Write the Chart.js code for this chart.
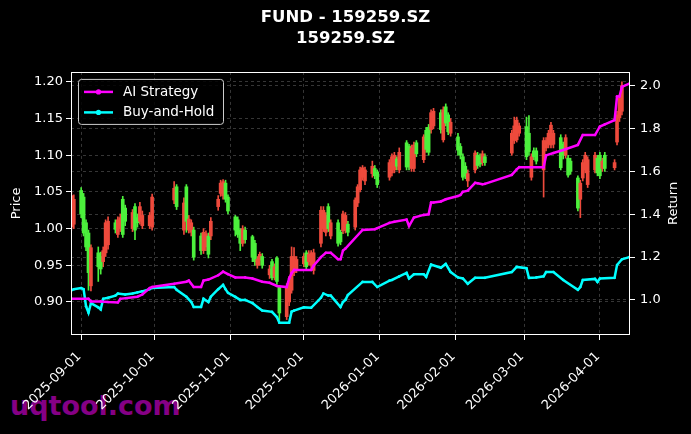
<!DOCTYPE html>
<html>
<head>
<meta charset="utf-8">
<script src="https://cdn.jsdelivr.net/npm/chart.js@4.4.1/dist/chart.umd.min.js"></script>
<style>
  html, body { margin: 0; padding: 0; background: #000; }
  #wrap { position: relative; width: 691px; height: 434px; }
  #mark { position: absolute; left: 10px; top: 390px; font: bold 27px "DejaVu Sans"; color: #850085; line-height: 31px; }
  canvas { position: absolute; left: 0; top: 0; }
</style>
</head>
<body>
<div id="wrap">
  <div id="mark">uqtool.com</div>
  <canvas id="chart" width="691" height="434"></canvas>
</div>
<script>
// daily candles (trading days)
const candleDates = [
  '2025-08-28','2025-08-29',
  '2025-09-01','2025-09-02','2025-09-03','2025-09-04','2025-09-05',
  '2025-09-08','2025-09-09','2025-09-10','2025-09-11','2025-09-12',
  '2025-09-15','2025-09-16','2025-09-17','2025-09-18','2025-09-19',
  '2025-09-22','2025-09-23','2025-09-24','2025-09-25','2025-09-26',
  '2025-09-29','2025-09-30','2025-10-09','2025-10-10',
  '2025-10-13','2025-10-14','2025-10-15','2025-10-16','2025-10-17',
  '2025-10-20','2025-10-21','2025-10-22','2025-10-23','2025-10-24',
  '2025-10-27','2025-10-28','2025-10-29','2025-10-30','2025-10-31',
  '2025-11-03','2025-11-04','2025-11-05','2025-11-06','2025-11-07',
  '2025-11-10','2025-11-11','2025-11-12','2025-11-13','2025-11-14',
  '2025-11-17','2025-11-18','2025-11-19','2025-11-20','2025-11-21',
  '2025-11-24','2025-11-25','2025-11-26','2025-11-27','2025-11-28',
  '2025-12-01','2025-12-02','2025-12-03','2025-12-04','2025-12-05',
  '2025-12-08','2025-12-09','2025-12-10','2025-12-11','2025-12-12',
  '2025-12-15','2025-12-16','2025-12-17','2025-12-18','2025-12-19',
  '2025-12-22','2025-12-23','2025-12-24','2025-12-25','2025-12-26',
  '2025-12-29','2025-12-30','2025-12-31',
  '2026-01-05','2026-01-06','2026-01-07','2026-01-08','2026-01-09',
  '2026-01-12','2026-01-13','2026-01-14','2026-01-15','2026-01-16',
  '2026-01-19','2026-01-20','2026-01-21','2026-01-22','2026-01-23',
  '2026-01-26','2026-01-27','2026-01-28','2026-01-29','2026-01-30',
  '2026-02-02','2026-02-03','2026-02-04','2026-02-05','2026-02-06',
  '2026-02-09','2026-02-10','2026-02-11','2026-02-12','2026-02-13',
  '2026-02-24','2026-02-25','2026-02-26','2026-02-27',
  '2026-03-02','2026-03-03','2026-03-04','2026-03-05','2026-03-06',
  '2026-03-09','2026-03-10','2026-03-11','2026-03-12','2026-03-13',
  '2026-03-16','2026-03-17','2026-03-18','2026-03-19','2026-03-20',
  '2026-03-23','2026-03-24','2026-03-25','2026-03-26','2026-03-27',
  '2026-03-30','2026-03-31','2026-04-01','2026-04-02','2026-04-03',
  '2026-04-07','2026-04-08','2026-04-09','2026-04-10'
];
const candleOpen = [
  1.045, 1.040,
  1.020, 0.994, 0.975, 0.940, 0.974,
  0.948, 0.945, 0.970, 1.008, 1.010,
  0.999, 1.012, 1.015, 0.992, 1.010,
  1.022, 0.998, 1.008, 1.030, 1.018,
  1.018, 1.043, 1.055, 1.030,
  1.035, 1.010, 1.013, 1.008, 0.961,
  0.970, 0.995, 0.993, 0.965, 1.010,
  1.040, 1.062, 1.064, 1.040, 1.024,
  0.998, 0.992, 0.980, 1.000, 0.985,
  0.961, 0.955, 0.958, 0.965, 0.950,
  0.945, 0.933, 0.948, 0.928, 0.885,
  0.920, 0.928, 0.962, 0.962, 0.958,
  0.962, 0.948, 0.965, 0.967, 0.967,
  1.025, 1.025, 1.018, 1.000, 1.008,
  0.980, 0.982, 1.020, 1.018, 0.995,
  1.039, 1.057, 1.080, 1.083, 1.080,
  1.085, 1.072, 1.060,
  1.090, 1.098, 1.100, 1.085, 1.104,
  1.084, 1.084, 1.110, 1.114, 1.102,
  1.125, 1.108, 1.104, 1.158, 1.160,
  1.135, 1.162, 1.144, 1.132, 1.145,
  1.107, 1.100, 1.070, 1.072, 1.075,
  1.103, 1.086, 1.088, 1.102, 1.090,
  1.130, 1.140, 1.148, 1.140,
  1.098, 1.105, 1.098, 1.098, 1.092,
  1.120, 1.120, 1.130, 1.141, 1.130,
  1.083, 1.100, 1.124, 1.073, 1.078,
  1.028, 1.062, 1.090, 1.100, 1.094,
  1.100, 1.076, 1.072, 1.092, 1.082,
  1.090, 1.155, 1.178, 1.195
];
const candleHigh = [
  1.050, 1.046,
  1.056, 1.048, 1.012, 0.998, 0.978,
  0.975, 0.968, 0.975, 1.012, 1.016,
  1.012, 1.016, 1.020, 1.044, 1.032,
  1.026, 1.034, 1.020, 1.036, 1.024,
  1.022, 1.047, 1.064, 1.060,
  1.042, 1.060, 1.018, 1.012, 1.002,
  0.994, 1.000, 0.997, 0.994, 1.015,
  1.045, 1.066, 1.067, 1.066, 1.046,
  1.018, 1.016, 1.000, 1.004, 1.002,
  0.991, 0.984, 0.962, 0.968, 0.966,
  0.950, 0.958, 0.952, 0.962, 0.922,
  0.925, 0.935, 0.975, 0.974, 0.962,
  0.966, 0.970, 0.970, 0.970, 0.972,
  1.030, 1.030, 1.022, 1.034, 1.012,
  1.012, 0.998, 1.024, 1.022, 1.010,
  1.042, 1.060, 1.084, 1.086, 1.084,
  1.092, 1.086, 1.080,
  1.094, 1.102, 1.104, 1.098, 1.110,
  1.120, 1.115, 1.114, 1.118, 1.120,
  1.128, 1.138, 1.142, 1.162, 1.164,
  1.162, 1.166, 1.170, 1.158, 1.150,
  1.130, 1.116, 1.102, 1.090, 1.080,
  1.106, 1.104, 1.102, 1.106, 1.102,
  1.134, 1.152, 1.152, 1.144,
  1.152, 1.154, 1.102, 1.110, 1.110,
  1.124, 1.124, 1.134, 1.145, 1.134,
  1.128, 1.118, 1.128, 1.100, 1.096,
  1.072, 1.066, 1.094, 1.104, 1.098,
  1.104, 1.100, 1.104, 1.096, 1.104,
  1.094, 1.160, 1.182, 1.200
];
const candleLow = [
  0.998, 1.000,
  1.015, 0.990, 0.970, 0.916, 0.915,
  0.928, 0.938, 0.948, 0.962, 0.972,
  0.994, 0.988, 0.996, 0.988, 1.004,
  0.996, 0.985, 1.002, 1.006, 1.000,
  1.000, 0.998, 1.034, 1.026,
  0.992, 0.995, 0.994, 0.990, 0.957,
  0.965, 0.966, 0.970, 0.960, 0.985,
  1.025, 1.044, 1.040, 1.036, 1.020,
  0.990, 0.988, 0.970, 0.976, 0.980,
  0.955, 0.950, 0.946, 0.950, 0.946,
  0.932, 0.930, 0.930, 0.924, 0.875,
  0.876, 0.895, 0.912, 0.936, 0.940,
  0.948, 0.944, 0.950, 0.946, 0.938,
  0.975, 0.996, 0.990, 0.996, 0.986,
  0.976, 0.978, 0.993, 0.994, 0.990,
  0.998, 1.030, 1.050, 1.066, 1.060,
  1.070, 1.068, 1.056,
  1.066, 1.072, 1.076, 1.080, 1.076,
  1.080, 1.080, 1.078, 1.078, 1.098,
  1.090, 1.104, 1.100, 1.130, 1.136,
  1.130, 1.118, 1.140, 1.128, 1.126,
  1.100, 1.095, 1.066, 1.068, 1.057,
  1.076, 1.082, 1.084, 1.086, 1.086,
  1.100, 1.116, 1.118, 1.126,
  1.094, 1.100, 1.066, 1.094, 1.088,
  1.043, 1.106, 1.110, 1.110, 1.110,
  1.080, 1.095, 1.096, 1.070, 1.074,
  1.024, 1.015, 1.065, 1.076, 1.056,
  1.076, 1.072, 1.068, 1.078, 1.078,
  1.080, 1.114, 1.146, 1.155
];
const candleClose = [
  1.002, 1.006,
  1.052, 1.043, 1.008, 0.994, 0.922,
  0.967, 0.962, 0.955, 0.967, 0.978,
  1.008, 0.992, 1.000, 1.040, 1.028,
  1.000, 1.030, 1.015, 1.010, 1.004,
  1.004, 1.002, 1.039, 1.057,
  0.998, 1.057, 0.998, 0.995, 0.998,
  0.990, 0.970, 0.975, 0.990, 0.990,
  1.030, 1.048, 1.045, 1.062, 1.043,
  1.016, 1.012, 0.998, 0.980, 0.998,
  0.989, 0.980, 0.950, 0.957, 0.962,
  0.937, 0.955, 0.934, 0.960, 0.920,
  0.880, 0.900, 0.916, 0.940, 0.945,
  0.952, 0.967, 0.955, 0.950, 0.943,
  0.980, 1.000, 0.995, 1.030, 0.990,
  1.008, 0.995, 0.997, 0.998, 1.006,
  1.002, 1.035, 1.053, 1.070, 1.065,
  1.075, 1.082, 1.077,
  1.070, 1.076, 1.080, 1.095, 1.080,
  1.117, 1.112, 1.082, 1.082, 1.117,
  1.094, 1.134, 1.138, 1.135, 1.140,
  1.158, 1.121, 1.166, 1.155, 1.130,
  1.125, 1.112, 1.098, 1.085, 1.065,
  1.080, 1.100, 1.098, 1.090, 1.098,
  1.103, 1.120, 1.121, 1.130,
  1.139, 1.130, 1.070, 1.106, 1.106,
  1.080, 1.110, 1.115, 1.114, 1.115,
  1.124, 1.115, 1.100, 1.096, 1.092,
  1.069, 1.040, 1.069, 1.080, 1.060,
  1.080, 1.096, 1.100, 1.082, 1.100,
  1.083, 1.118, 1.151, 1.160
];

// strategy curves (right axis)
const aiDates = [
  '2025-08-28','2025-09-04','2025-09-05','2025-09-09','2025-09-12','2025-09-16','2025-09-17',
  '2025-09-24','2025-09-26','2025-09-29','2025-09-30','2025-10-09','2025-10-14','2025-10-15',
  '2025-10-17','2025-10-20','2025-10-21','2025-10-23','2025-10-27','2025-10-29','2025-10-31',
  '2025-11-03','2025-11-07','2025-11-10','2025-11-14','2025-11-17','2025-11-20','2025-11-24',
  '2025-11-25','2025-11-26','2025-11-27','2025-12-04','2025-12-05','2025-12-08','2025-12-10',
  '2025-12-12','2025-12-15','2025-12-16','2025-12-17','2025-12-18','2025-12-25','2025-12-30',
  '2025-12-31','2026-01-05','2026-01-07','2026-01-12','2026-01-13','2026-01-15','2026-01-19',
  '2026-01-21','2026-01-22','2026-01-23','2026-01-26','2026-01-28','2026-02-02','2026-02-03',
  '2026-02-04','2026-02-06','2026-02-09','2026-02-10','2026-02-12','2026-02-13','2026-02-24',
  '2026-02-26','2026-02-27','2026-03-09','2026-03-10','2026-03-13','2026-03-17','2026-03-23',
  '2026-03-25','2026-03-30','2026-04-01','2026-04-03','2026-04-07','2026-04-08','2026-04-09',
  '2026-04-10','2026-04-13'
];
const aiValues = [
  1.005, 1.005, 0.993, 0.993, 0.990, 0.988, 1.005,
  1.015, 1.025, 1.055, 1.060, 1.075, 1.085, 1.090,
  1.060, 1.060, 1.090, 1.095, 1.115, 1.132, 1.120,
  1.105, 1.105, 1.100, 1.085, 1.080, 1.065, 1.060,
  1.100, 1.125, 1.140, 1.140, 1.160, 1.200, 1.220,
  1.220, 1.190, 1.190, 1.230, 1.240, 1.327, 1.330,
  1.335, 1.360, 1.365, 1.375, 1.345, 1.385, 1.397,
  1.400, 1.455, 1.455, 1.460, 1.470, 1.485, 1.490,
  1.505, 1.510, 1.547, 1.545, 1.540, 1.542, 1.584,
  1.610, 1.620, 1.620, 1.675, 1.686, 1.700, 1.724,
  1.770, 1.770, 1.810, 1.820, 1.840, 1.950, 1.950,
  1.995, 2.010
];
const bhDates = [
  '2025-08-28','2025-08-29','2025-09-01','2025-09-02','2025-09-03','2025-09-04','2025-09-05',
  '2025-09-08','2025-09-09','2025-09-10','2025-09-12','2025-09-15','2025-09-16','2025-09-19',
  '2025-09-22','2025-09-24','2025-09-26','2025-09-29','2025-09-30','2025-10-09','2025-10-10',
  '2025-10-14','2025-10-16','2025-10-17','2025-10-20','2025-10-21','2025-10-23','2025-10-24',
  '2025-10-27','2025-10-29','2025-10-30','2025-10-31','2025-11-03','2025-11-05','2025-11-07',
  '2025-11-10','2025-11-12','2025-11-14','2025-11-18','2025-11-20','2025-11-21','2025-11-25',
  '2025-11-26','2025-11-27','2025-12-01','2025-12-04','2025-12-08','2025-12-09','2025-12-11',
  '2025-12-12','2025-12-16','2025-12-17','2025-12-18','2025-12-19','2025-12-25','2025-12-29',
  '2025-12-31','2026-01-05','2026-01-06','2026-01-09','2026-01-12','2026-01-13','2026-01-15',
  '2026-01-19','2026-01-20','2026-01-22','2026-01-26','2026-01-28','2026-01-30','2026-02-02',
  '2026-02-04','2026-02-06','2026-02-09','2026-02-13','2026-02-24','2026-02-26','2026-03-02',
  '2026-03-03','2026-03-06','2026-03-09','2026-03-10','2026-03-13','2026-03-17','2026-03-23',
  '2026-03-24','2026-03-25','2026-03-30','2026-03-31','2026-04-01','2026-04-07','2026-04-08',
  '2026-04-10','2026-04-13'
];
const bhValues = [
  1.045, 1.050, 1.055, 1.050, 0.970, 0.940, 0.985,
  0.965, 0.955, 1.005, 1.010, 1.020, 1.030, 1.025,
  1.030, 1.035, 1.040, 1.050, 1.056, 1.060, 1.047,
  1.015, 0.990, 0.967, 0.967, 1.005, 0.990, 1.015,
  1.050, 1.070, 1.050, 1.033, 1.014, 1.000, 1.000,
  0.985, 0.967, 0.950, 0.944, 0.920, 0.893, 0.893,
  0.945, 0.950, 0.965, 0.963, 1.010, 1.030, 1.020,
  1.020, 0.967, 0.990, 1.000, 1.023, 1.084, 1.084,
  1.060, 1.090, 1.093, 1.110, 1.126, 1.100, 1.120,
  1.120, 1.107, 1.165, 1.150, 1.168, 1.130, 1.105,
  1.100, 1.075, 1.103, 1.103, 1.130, 1.154, 1.148,
  1.103, 1.105, 1.110, 1.130, 1.130, 1.093, 1.047,
  1.060, 1.093, 1.098, 1.084, 1.100, 1.103, 1.163,
  1.190, 1.200
];

const monthTicks = ['2025-09-01','2025-10-01','2025-11-01','2025-12-01','2026-01-01','2026-02-01','2026-03-01','2026-04-01'];
const priceTicks = [0.90, 0.95, 1.00, 1.05, 1.10, 1.15, 1.20];
const returnTicks = [1.0, 1.2, 1.4, 1.6, 1.8, 2.0];

const DAY0 = Date.UTC(2025, 8, 1);
const dayNum = s => (Date.parse(s + 'T00:00:00Z') - DAY0) / 864e5;
const dayStr = v => new Date(DAY0 + Math.round(v) * 864e5).toISOString().slice(0, 10);

const FONT = 'DejaVu Sans';
const UP = '#4cf03c';
const DOWN = '#ee4a3c';
const GRID = 'rgba(150,150,150,0.45)';
const candleColors = candleOpen.map((o, i) => candleClose[i] >= o ? UP : DOWN);

const frameAndLegend = {
  id: 'frameAndLegend',
  afterDraw(chart) {
    const { ctx, chartArea: a } = chart;
    ctx.save();
    ctx.strokeStyle = '#fff';
    ctx.lineWidth = 1;
    ctx.strokeRect(Math.round(a.left) + 0.5, Math.round(a.top) + 0.5,
      Math.round(a.right - a.left) - 1, Math.round(a.bottom - a.top) - 1);

    // right axis label reads bottom to top, like the left one
    ctx.save();
    ctx.translate(chart.width - 17, (a.top + a.bottom) / 2);
    ctx.rotate(-Math.PI / 2);
    ctx.fillStyle = '#fff';
    ctx.font = '13px "' + FONT + '"';
    ctx.textAlign = 'center';
    ctx.textBaseline = 'middle';
    ctx.fillText('Return', 0, 0);
    ctx.restore();

    // legend box, top left inside the plot
    const bx = a.left + 7, by = a.top + 7, bw = 145, bh = 45;
    ctx.beginPath();
    ctx.roundRect(bx + 0.5, by + 0.5, bw, bh, 3);
    ctx.fillStyle = 'rgba(0,0,0,0.85)';
    ctx.fill();
    ctx.strokeStyle = '#cccccc';
    ctx.stroke();
    const items = [['AI Strategy', '#ff00ff'], ['Buy-and-Hold', '#00ffff']];
    items.forEach(([txt, col], i) => {
      const y = by + 13 + i * 20.5;
      ctx.strokeStyle = col;
      ctx.lineWidth = 2.5;
      ctx.beginPath();
      ctx.moveTo(bx + 6, y);
      ctx.lineTo(bx + 35, y);
      ctx.stroke();
      ctx.fillStyle = col;
      ctx.beginPath();
      ctx.arc(bx + 20.5, y, 2.6, 0, Math.PI * 2);
      ctx.fill();
      ctx.fillStyle = '#fff';
      ctx.font = '13.5px "' + FONT + '"';
      ctx.textBaseline = 'middle';
      ctx.textAlign = 'left';
      ctx.fillText(txt, bx + 45, y + 0.5);
    });
    ctx.restore();
  }
};

const lineStyle = col => ({
  type: 'line', yAxisID: 'y1', borderColor: col, backgroundColor: col,
  borderWidth: 2.5, pointRadius: 1.3, pointBorderWidth: 0, tension: 0
});

new Chart(document.getElementById('chart'), {
  type: 'line',
  data: {
    datasets: [
      Object.assign(lineStyle('#ff00ff'), {
        label: 'AI Strategy', order: 0,
        data: aiDates.map((d, i) => ({ x: dayNum(d), y: aiValues[i] }))
      }),
      Object.assign(lineStyle('#00ffff'), {
        label: 'Buy-and-Hold', order: 1,
        data: bhDates.map((d, i) => ({ x: dayNum(d), y: bhValues[i] }))
      }),
      {
        type: 'bar', label: 'body', yAxisID: 'y', order: 2, grouped: false,
        barThickness: 3, minBarLength: 1, borderWidth: 0,
        backgroundColor: candleColors,
        data: candleDates.map((d, i) => ({ x: dayNum(d), y: [candleOpen[i], candleClose[i]] }))
      },
      {
        type: 'bar', label: 'wick', yAxisID: 'y', order: 3, grouped: false,
        barThickness: 1, borderWidth: 0,
        backgroundColor: candleColors,
        data: candleDates.map((d, i) => ({ x: dayNum(d), y: [candleLow[i], candleHigh[i]] }))
      }
    ]
  },
  options: {
    responsive: false,
    animation: false,
    layout: { padding: 0 },
    plugins: {
      legend: { display: false },
      tooltip: { enabled: false },
      title: {
        display: true,
        text: ['FUND - 159259.SZ', '159259.SZ'],
        color: '#fff',
        font: { family: FONT, size: 16.5, weight: 'bold', lineHeight: 1.27 },
        padding: { top: 7.5, bottom: 22.5 }
      }
    },
    scales: {
      x: {
        type: 'linear',
        min: dayNum('2025-08-28') - 0.15,
        max: dayNum('2026-04-13') + 0.3,
        offset: false,
        afterBuildTicks: s => { s.ticks = monthTicks.map(d => ({ value: dayNum(d) })); },
        afterFit: s => { s.height = 99; },
        ticks: {
          color: '#fff', font: { family: FONT, size: 13 },
          minRotation: 45, maxRotation: 45, autoSkip: false, padding: 9, labelOffset: -2,
          callback: v => dayStr(v)
        },
        grid: { color: GRID, lineWidth: 0.8, offset: false, tickColor: '#fff', tickLength: 5, tickWidth: 1 },
        border: { display: false, dash: [3, 3] }
      },
      y: {
        position: 'left',
        min: 0.855, max: 1.2136,
        afterBuildTicks: s => { s.ticks = priceTicks.map(v => ({ value: v })); },
        afterFit: s => { s.width = 71; },
        ticks: { color: '#fff', font: { family: FONT, size: 13 }, padding: 3, callback: v => v.toFixed(2) },
        grid: { color: GRID, lineWidth: 0.8, tickColor: '#fff', tickLength: 5, tickWidth: 1 },
        border: { display: false, dash: [3, 3] },
        title: { display: true, text: 'Price', color: '#fff', font: { family: FONT, size: 13 }, padding: { top: 9, bottom: 0 } }
      },
      y1: {
        position: 'right',
        min: 0.836, max: 2.065,
        afterBuildTicks: s => { s.ticks = returnTicks.map(v => ({ value: v })); },
        afterFit: s => { s.width = 61; },
        ticks: { color: '#fff', font: { family: FONT, size: 13 }, padding: 5, callback: v => v.toFixed(1) },
        grid: { color: GRID, lineWidth: 0.8, tickColor: '#fff', tickLength: 5, tickWidth: 1 },
        border: { display: false, dash: [3, 3] }
      }
    }
  },
  plugins: [frameAndLegend]
});
</script>
</body>
</html>
